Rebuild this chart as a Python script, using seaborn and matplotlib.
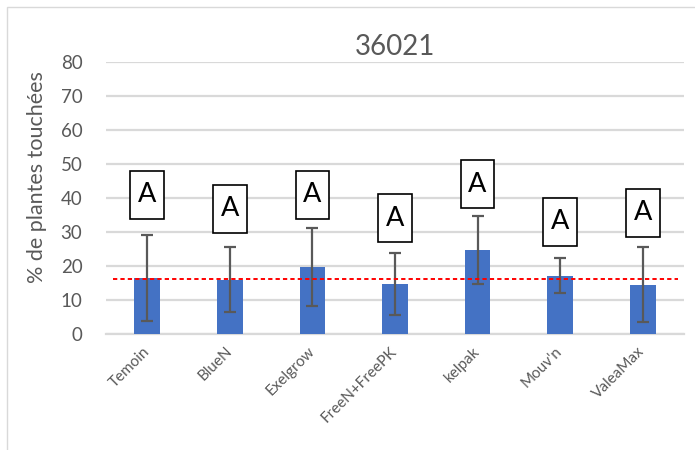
import matplotlib
matplotlib.use("Agg")
import matplotlib.pyplot as plt
from matplotlib.patches import Rectangle
import seaborn as sns
import numpy as np

# ---- data ----
categories = ["Temoin", "BlueN", "Exelgrow", "FreeN+FreePK", "kelpak", "Mouv'n", "ValeaMax"]
values = [16.6, 16.0, 19.8, 14.7, 24.7, 17.2, 14.4]
err_low = [3.8, 6.6, 8.2, 5.7, 14.8, 12.2, 3.4]
err_high = [29.0, 25.5, 31.3, 23.9, 34.8, 22.3, 25.5]
letters = ["A", "A", "A", "A", "A", "A", "A"]
letter_y = [41.0, 36.8, 41.0, 34.1, 44.0, 33.0, 35.7]
ref_line = 16.2
title = "36021"
ylabel = "% de plantes touchées"
yticks = [0, 10, 20, 30, 40, 50, 60, 70, 80]

sns.set_theme(style="white")
plt.rcParams["font.family"] = ["Lato", "DejaVu Sans"]

TXT = "#595959"
GRID = "#D9D9D9"
BAR = "#4472C4"

W, H = 695, 450
fig = plt.figure(figsize=(W / 100, H / 100), dpi=100)
ax = fig.add_axes([106 / W, 1 - 334 / H, 578 / W, 272 / H])

# chart border
fig.patches.append(Rectangle((7 / W, -0.1), 1.2, 1 - 7 / H + 0.1, transform=fig.transFigure,
                             fill=False, edgecolor=GRID, linewidth=1.0, zorder=0))

sns.barplot(x=categories, y=values, color=BAR, width=0.31, saturation=1, ax=ax,
            edgecolor="none", linewidth=0, zorder=3)

x = np.arange(len(categories))
vals = np.array(values)
yerr = np.vstack([vals - np.array(err_low), np.array(err_high) - vals])
ax.errorbar(x, vals, yerr=yerr, fmt="none", ecolor="#595959", elinewidth=1.6,
            capsize=4.3, capthick=1.6, zorder=4)

ax.axhline(ref_line, xmin=0.012, xmax=0.99, color="#FF0000", linewidth=1.4,
           linestyle=(0, (2.2, 1.6)), zorder=5)

# letter boxes
bw, bh = 0.41, 14.1
for xi, ly, lt in zip(x, letter_y, letters):
    ax.add_patch(Rectangle((xi - bw / 2, ly - bh / 2), bw, bh, facecolor="white",
                           edgecolor="black", linewidth=1.2, zorder=6, clip_on=False))
    ax.text(xi, ly, lt, ha="center", va="center", fontsize=19.5, color="black", zorder=7)

ax.set_xlim(-0.5, len(categories) - 0.5)
ax.set_ylim(0, 80)
ax.set_yticks(yticks)
ax.set_yticklabels([str(t) for t in yticks])
ax.yaxis.grid(True, color=GRID, linewidth=1.6, zorder=0)
ax.set_axisbelow(True)
for s in ["top", "right", "left"]:
    ax.spines[s].set_visible(False)
ax.spines["bottom"].set_color(GRID)
ax.spines["bottom"].set_linewidth(1.6)

ax.tick_params(axis="y", length=0, pad=17, labelsize=13.5, labelcolor=TXT)
ax.tick_params(axis="x", length=0, pad=11, labelsize=11, labelcolor=TXT)
for lab in ax.get_xticklabels():
    lab.set_rotation(45)
    lab.set_ha("right")
    lab.set_va("center")
    lab.set_rotation_mode("anchor")

ax.set_xlabel("")
ax.set_ylabel(ylabel, fontsize=15.5, color=TXT)
ax.yaxis.set_label_coords(-0.102, 0.577)
ax.set_title(title, fontsize=20, color=TXT, pad=5)

fig.savefig("out.png", dpi=100, facecolor="white")
